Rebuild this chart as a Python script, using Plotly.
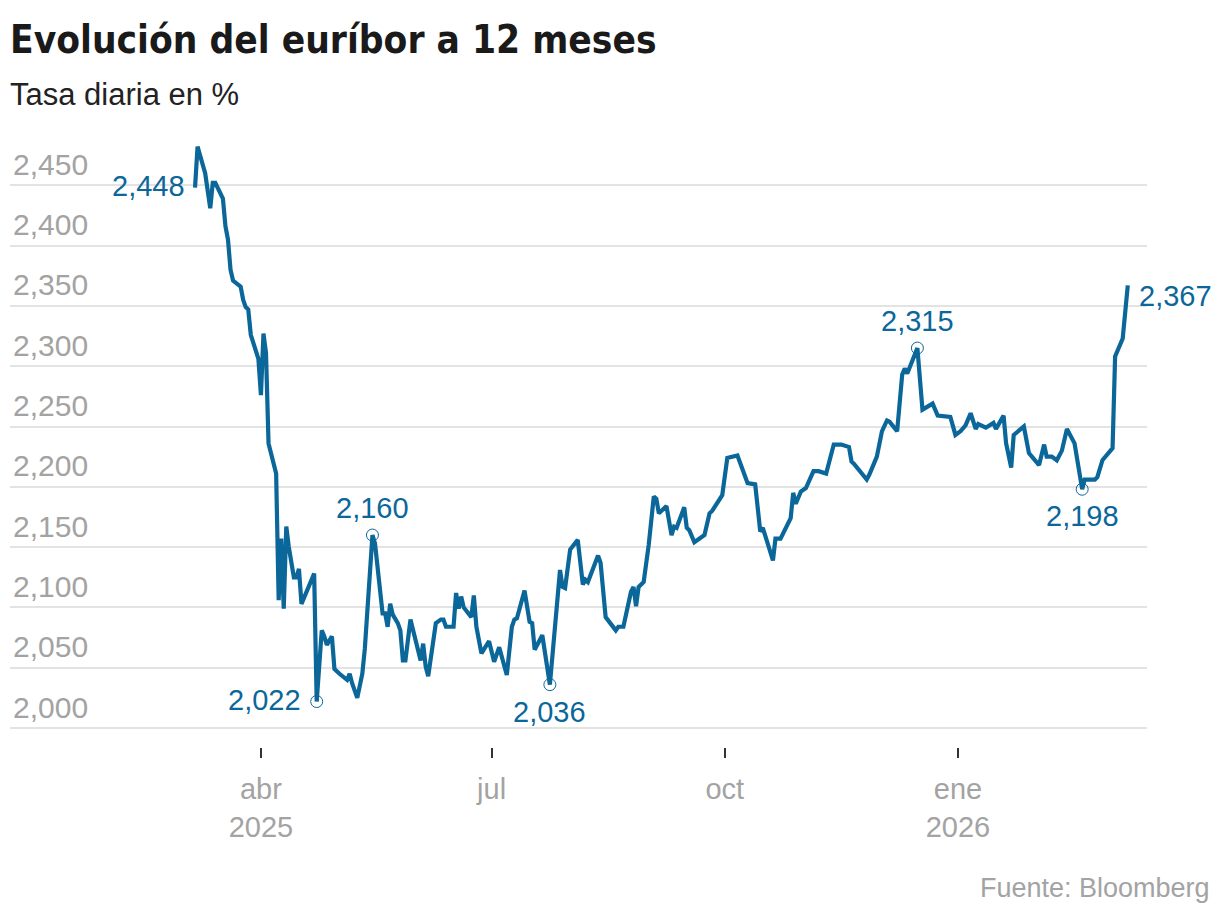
import plotly.graph_objects as go

# ---------------- data ----------------
dates = [
    "2025-03-06", "2025-03-07", "2025-03-10", "2025-03-12", "2025-03-13", "2025-03-14",
    "2025-03-17", "2025-03-18", "2025-03-19", "2025-03-20", "2025-03-21", "2025-03-24",
    "2025-03-25", "2025-03-26", "2025-03-27", "2025-03-28", "2025-03-31", "2025-04-01",
    "2025-04-02", "2025-04-03", "2025-04-04", "2025-04-07", "2025-04-08", "2025-04-09",
    "2025-04-10", "2025-04-11", "2025-04-12", "2025-04-14", "2025-04-15", "2025-04-16",
    "2025-04-17", "2025-04-22", "2025-04-23", "2025-04-25", "2025-04-26", "2025-04-27",
    "2025-04-29", "2025-04-30", "2025-05-02", "2025-05-05", "2025-05-06", "2025-05-07",
    "2025-05-09", "2025-05-11", "2025-05-12", "2025-05-15", "2025-05-16", "2025-05-19",
    "2025-05-20", "2025-05-21", "2025-05-22", "2025-05-23", "2025-05-25", "2025-05-26",
    "2025-05-27", "2025-05-28", "2025-05-30", "2025-06-01", "2025-06-03", "2025-06-04",
    "2025-06-05", "2025-06-06", "2025-06-09", "2025-06-11", "2025-06-12", "2025-06-13",
    "2025-06-16", "2025-06-17", "2025-06-18", "2025-06-19", "2025-06-20", "2025-06-23",
    "2025-06-24", "2025-06-25", "2025-06-27", "2025-06-30", "2025-07-02", "2025-07-04",
    "2025-07-07", "2025-07-09", "2025-07-10", "2025-07-11", "2025-07-14", "2025-07-16",
    "2025-07-17", "2025-07-18", "2025-07-21", "2025-07-24", "2025-07-25", "2025-07-28",
    "2025-07-29", "2025-07-30", "2025-08-01", "2025-08-04", "2025-08-06", "2025-08-07",
    "2025-08-08", "2025-08-10", "2025-08-12", "2025-08-13", "2025-08-15", "2025-08-19",
    "2025-08-20", "2025-08-22", "2025-08-25", "2025-08-26", "2025-08-27", "2025-08-28",
    "2025-08-30", "2025-09-01", "2025-09-03", "2025-09-04", "2025-09-05", "2025-09-08",
    "2025-09-10", "2025-09-11", "2025-09-12", "2025-09-15", "2025-09-16", "2025-09-17",
    "2025-09-19", "2025-09-23", "2025-09-25", "2025-09-26", "2025-09-30", "2025-10-02",
    "2025-10-06", "2025-10-10", "2025-10-13", "2025-10-15", "2025-10-16", "2025-10-20",
    "2025-10-21", "2025-10-23", "2025-10-27", "2025-10-28", "2025-10-29", "2025-10-31",
    "2025-11-02", "2025-11-05", "2025-11-07", "2025-11-10", "2025-11-13", "2025-11-16",
    "2025-11-19", "2025-11-20", "2025-11-21", "2025-11-26", "2025-11-27", "2025-11-30",
    "2025-12-02", "2025-12-04", "2025-12-05", "2025-12-08", "2025-12-10", "2025-12-11",
    "2025-12-12", "2025-12-16", "2025-12-18", "2025-12-22", "2025-12-24", "2025-12-29",
    "2025-12-31", "2026-01-02", "2026-01-04", "2026-01-06", "2026-01-08", "2026-01-09",
    "2026-01-12", "2026-01-15", "2026-01-16", "2026-01-19", "2026-01-20", "2026-01-22",
    "2026-01-23", "2026-01-27", "2026-01-29", "2026-02-02", "2026-02-04", "2026-02-05",
    "2026-02-07", "2026-02-09", "2026-02-11", "2026-02-13", "2026-02-16", "2026-02-19",
    "2026-02-20", "2026-02-24", "2026-02-25", "2026-02-27", "2026-03-03", "2026-03-04",
    "2026-03-07", "2026-03-09",
]

euribor = [
    2.448, 2.482, 2.460, 2.431, 2.452, 2.452,
    2.439, 2.416, 2.405, 2.380, 2.371, 2.366,
    2.355, 2.349, 2.347, 2.326, 2.306, 2.276,
    2.327, 2.311, 2.236, 2.211, 2.106, 2.157,
    2.099, 2.167, 2.150, 2.125, 2.125, 2.132,
    2.103, 2.128, 2.022, 2.081, 2.076, 2.069,
    2.076, 2.049, 2.045, 2.040, 2.045, 2.037,
    2.025, 2.045, 2.066, 2.160, 2.153, 2.095,
    2.095, 2.084, 2.103, 2.094, 2.087, 2.081,
    2.056, 2.056, 2.090, 2.073, 2.056, 2.070,
    2.051, 2.043, 2.087, 2.090, 2.090, 2.084,
    2.084, 2.112, 2.099, 2.109, 2.100, 2.092,
    2.110, 2.084, 2.062, 2.072, 2.055, 2.067,
    2.044, 2.084, 2.090, 2.091, 2.114, 2.088,
    2.087, 2.065, 2.077, 2.036, 2.062, 2.131,
    2.117, 2.116, 2.148, 2.156, 2.119, 2.123,
    2.121, 2.131, 2.143, 2.137, 2.092, 2.081,
    2.084, 2.084, 2.113, 2.117, 2.101, 2.117,
    2.121, 2.152, 2.192, 2.190, 2.178, 2.184,
    2.160, 2.167, 2.166, 2.183, 2.166, 2.164,
    2.154, 2.160, 2.178, 2.180, 2.193, 2.224,
    2.226, 2.203, 2.202, 2.163, 2.166, 2.139,
    2.157, 2.157, 2.174, 2.195, 2.186, 2.196,
    2.199, 2.213, 2.213, 2.211, 2.235, 2.235,
    2.233, 2.221, 2.219, 2.206, 2.210, 2.225,
    2.246, 2.255, 2.254, 2.246, 2.293, 2.298,
    2.294, 2.315, 2.264, 2.269, 2.259, 2.258,
    2.243, 2.246, 2.251, 2.261, 2.248, 2.252,
    2.249, 2.253, 2.248, 2.259, 2.236, 2.216,
    2.243, 2.250, 2.228, 2.218, 2.235, 2.225,
    2.225, 2.222, 2.230, 2.248, 2.236, 2.198,
    2.206, 2.206, 2.208, 2.222, 2.232, 2.308,
    2.323, 2.367,
]

# highlighted points (dates looked up in the series)
marked_dates = ["2025-04-23", "2025-05-15", "2025-07-24", "2025-12-16", "2026-02-19"]
marked_positions = ["left", "above", "below", "above", "below"]

y_tickvals = [2.00, 2.05, 2.10, 2.15, 2.20, 2.25, 2.30, 2.35, 2.40, 2.45]
x_tickvals = ["2025-04-01", "2025-07-01", "2025-10-01", "2026-01-01"]
x_ticktext = ["abr<br>2025", "jul", "oct", "ene<br>2026"]

title_text = "Evolución del euríbor a 12 meses"
subtitle_text = "Tasa diaria en %"
source_text = "Fuente: Bloomberg"

# ---------------- style ----------------
BLUE = "#0b6799"
GRAY = "#a3a3a3"
FONT = "Liberation Sans, Arial, sans-serif"
TITLE_FONT = "Liberation Sans Narrow, DejaVu Sans Condensed, Arial Narrow, Liberation Sans, sans-serif"


def fmt(v):
    return f"{v:.3f}".replace(".", ",")


fig = go.Figure()
fig.add_trace(go.Scatter(
    x=dates, y=euribor, mode="lines",
    line=dict(color=BLUE, width=4.2),
    hoverinfo="skip", showlegend=False,
))

mk_vals = [euribor[dates.index(d)] for d in marked_dates]
fig.add_trace(go.Scatter(
    x=marked_dates, y=mk_vals, mode="markers",
    marker=dict(size=12, color="rgba(255,255,255,0)", line=dict(color=BLUE, width=1)),
    hoverinfo="skip", showlegend=False,
))

ann = []
afont = dict(family=FONT, size=29, color=BLUE)
for d, v, pos in zip(marked_dates, mk_vals, marked_positions):
    if pos == "left":
        ann.append(dict(x=d, y=v, text=fmt(v), showarrow=False, xanchor="right",
                        yanchor="middle", xshift=-14, yshift=2, font=afont))
    elif pos == "above":
        ann.append(dict(x=d, y=v, text=fmt(v), showarrow=False, xanchor="center",
                        yanchor="bottom", yshift=9, font=afont))
    else:
        ann.append(dict(x=d, y=v, text=fmt(v), showarrow=False, xanchor="center",
                        yanchor="top", yshift=-9, font=afont))

# first and last values
ann.append(dict(x=dates[0], y=euribor[0], text=fmt(euribor[0]), showarrow=False,
                xanchor="right", yanchor="middle", xshift=-8, yshift=2, font=afont))
ann.append(dict(x=dates[-1], y=euribor[-1], text=fmt(euribor[-1]), showarrow=False,
                xanchor="left", yanchor="middle", xshift=9, yshift=-11, font=afont))

# title, subtitle, source
ann.append(dict(xref="paper", yref="paper", x=-0.002, y=1.146, text=f"<b>{title_text}</b>",
                showarrow=False, xanchor="left", yanchor="middle",
                font=dict(family=TITLE_FONT, size=38.5, color="#1a1a1a")))
ann.append(dict(xref="paper", yref="paper", x=-0.002, y=1.057, text=subtitle_text,
                showarrow=False, xanchor="left", yanchor="middle",
                font=dict(family=FONT, size=31, color="#222222")))
ann.append(dict(xref="paper", yref="paper", x=1.0571, y=-0.2285, text=source_text,
                showarrow=False, xanchor="right", yanchor="middle",
                font=dict(family=FONT, size=27, color=GRAY)))

# page body has an 8px margin, so the figure's margins compensate for it
fig.update_layout(
    width=1220, height=920,
    margin=dict(l=2, r=81, t=122, b=181),
    paper_bgcolor="white", plot_bgcolor="white",
    separators=",.",
    annotations=ann,
    xaxis=dict(
        type="date",
        range=["2024-12-23", "2026-03-16 14:00"],
        tickvals=x_tickvals, ticktext=x_ticktext,
        ticks="outside", ticklen=10, tickwidth=1.5, tickcolor="#333333",
        ticklabelstandoff=6,
        showgrid=False, showline=False, zeroline=False,
        tickfont=dict(family=FONT, size=29, color=GRAY),
    ),
    yaxis=dict(
        range=[1.9843, 2.4958],
        tickvals=y_tickvals, tickformat=".3f",
        ticklabelposition="inside top",
        showgrid=True, gridcolor="#e3e3e3", gridwidth=1.5,
        zeroline=False, showline=False, ticks="",
        tickfont=dict(family=FONT, size=30, color=GRAY),
    ),
)

fig.write_html("out.html")
